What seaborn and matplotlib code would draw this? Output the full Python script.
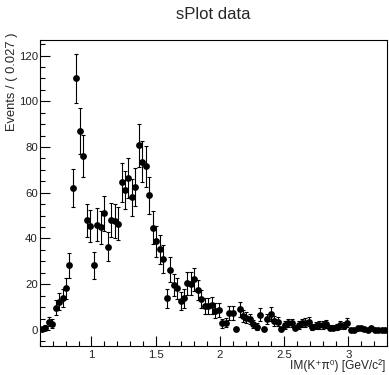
import numpy as np
import pandas as pd
import matplotlib
matplotlib.use("Agg")
import matplotlib.pyplot as plt
import seaborn as sns
from matplotlib.ticker import MultipleLocator

# ---- data ----
x_min, x_max, n_bins = 0.6, 3.3, 100
counts = [0.3, 1.0, 3.6, 2.8, 9.8, 12.4, 13.9, 18.3, 28.2, 62.0,
          110.0, 87.0, 76.0, 48.0, 45.5, 28.2, 46.0, 45.0, 51.0, 36.5,
          48.0, 47.5, 46.5, 64.5, 61.0, 66.5, 58.0, 62.5, 80.7, 73.5,
          71.5, 58.8, 44.8, 38.7, 35.3, 31.0, 13.9, 26.3, 19.6, 18.3,
          12.8, 13.9, 20.4, 20.3, 22.1, 17.5, 13.6, 10.6, 10.6, 10.8,
          8.5, 8.8, 2.9, 3.2, 7.3, 7.3, 0.3, 9.1, 6.1, 5.4,
          4.8, 2.6, 1.5, 6.6, 0.4, 4.8, 7.0, 4.1, 3.7, 0.4,
          2.2, 2.9, 2.9, 0.7, 2.2, 2.9, 3.2, 3.6, 1.2, 1.8,
          2.2, 2.2, 2.5, 1.0, 1.0, 1.2, 2.2, 1.8, 3.2, 0.0,
          0.0, 0.7, 0.7, 0.4, 0.0, 0.7, 0.0, 0.0, 0.0, 0.0]
errors = [0.6, 1.1, 2.0, 1.8, 3.2, 3.8, 4.0, 4.6, 5.6, 8.2,
          10.8, 9.9, 9.1, 7.3, 7.1, 5.8, 7.3, 7.2, 7.6, 6.5,
          7.4, 7.4, 7.3, 8.6, 8.3, 8.7, 8.1, 8.4, 9.5, 9.0,
          8.9, 8.1, 7.1, 6.6, 6.3, 6.0, 4.2, 5.5, 4.8, 4.6,
          3.9, 4.1, 4.9, 4.9, 5.1, 4.5, 4.0, 3.6, 3.6, 3.6,
          3.2, 3.2, 2.0, 2.0, 3.0, 3.0, 0.6, 3.3, 2.7, 2.5,
          2.4, 1.8, 1.4, 2.8, 0.7, 2.4, 2.9, 2.2, 2.1, 0.7,
          1.6, 1.8, 1.8, 0.9, 1.6, 1.8, 1.9, 2.0, 1.2, 1.5,
          1.6, 1.6, 1.7, 1.1, 1.1, 1.2, 1.6, 1.5, 1.9, 0.0,
          0.0, 0.9, 0.9, 0.7, 0.0, 0.9, 0.0, 0.0, 0.0, 0.0]
x_ticks = [1.0, 1.5, 2.0, 2.5, 3.0]
x_tick_labels = ["1", "1.5", "2", "2.5", "3"]
y_ticks = [0, 20, 40, 60, 80, 100, 120]

edges = np.linspace(x_min, x_max, n_bins + 1)
centers = 0.5 * (edges[:-1] + edges[1:])
df = pd.DataFrame({"mass": centers, "events": counts, "err": errors})

# ---- style ----
sns.set_style("white")
plt.rcParams["font.family"] = ["Liberation Sans", "DejaVu Sans"]

fig = plt.figure(figsize=(3.89, 3.75), dpi=100)
ax = fig.add_axes([40 / 389, 1 - 346 / 375, 347 / 389, (346 - 39.5) / 375])

ax.errorbar(df["mass"], df["events"], yerr=df["err"], fmt="none",
            ecolor="black", elinewidth=0.8, capsize=1.2, capthick=0.8, zorder=2)
sns.scatterplot(data=df, x="mass", y="events", ax=ax, color="black",
                s=24, marker="o", edgecolor="black", linewidth=0, zorder=3)

ax.set_xlim(x_min, x_max)
ax.set_ylim(-7, 127)
ax.set_xticks(x_ticks)
ax.set_xticklabels(x_tick_labels)
ax.set_yticks(y_ticks)
ax.xaxis.set_minor_locator(MultipleLocator(0.1))
ax.yaxis.set_minor_locator(MultipleLocator(5))
ax.tick_params(axis="both", which="both", direction="in", color="black",
               width=0.8, labelsize=8.2, labelcolor="#222222",
               bottom=True, left=True, top=False, right=False)
ax.tick_params(axis="both", which="major", length=7.2)
ax.tick_params(axis="both", which="minor", length=3.6)
ax.tick_params(axis="x", which="major", pad=3.0)
ax.tick_params(axis="y", which="major", pad=1.5)

for sp in ax.spines.values():
    sp.set_visible(True)
    sp.set_color("black")
    sp.set_linewidth(0.8)

ax.set_title("sPlot data", fontsize=12, pad=15)
ax.set_xlabel("IM(K\u207a\u03c0\u2070) [GeV/c\u00b2]", fontsize=8.6, loc="right",
              family=["Liberation Sans", "DejaVu Sans"])
ax.xaxis.set_label_coords(0.994, -0.042)
ax.set_ylabel("Events / ( 0.027 )", fontsize=9.3, loc="top")
ax.yaxis.set_label_coords(-0.064, 1.022)

fig.savefig("out.png", dpi=100)
